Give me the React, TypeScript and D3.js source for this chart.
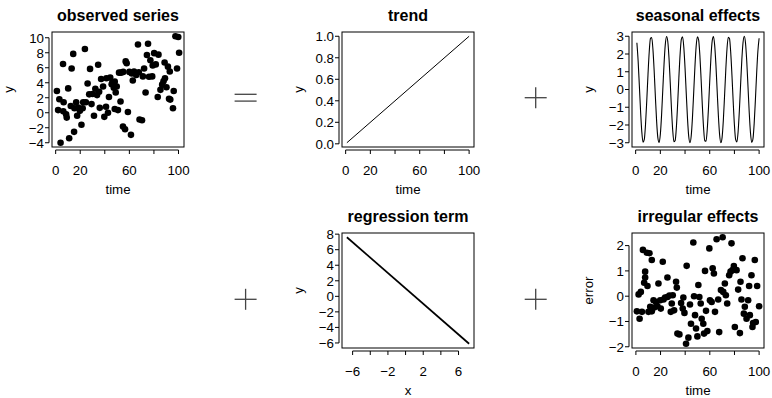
import React from "react";
import * as d3 from "d3";

// ---------- data ----------
const obsTime = [1, 2, 3, 4, 6, 6.2, 6.5, 8.5, 9, 10.2, 11, 12.3, 13, 14.3, 15, 15.3, 16.7, 17.5, 18.3, 19.7,
  21, 22, 22.4, 23.8, 24.6, 26, 27.3, 28, 29.2, 30, 31.2, 32.3, 33.7, 34.6, 35.4, 35.9, 37, 38.6, 39.6, 41,
  41.3, 42.6, 43.4, 44.4, 45.6, 46.2, 47.3, 48.1, 48.1, 48.9, 49.7, 50.7, 51.6, 52.8, 53.2, 54.8, 55, 56.5, 57, 57.8,
  58.8, 60, 61.3, 62, 62.8, 63.8, 65.6, 67, 67.7, 68.3, 70.3, 71, 72, 73.2, 74.3, 75.2, 76, 77.1, 78.6, 79,
  80.2, 81.5, 83.1, 83.7, 85.3, 86.7, 87.8, 88.7, 89, 90.2, 91.4, 92.3, 92.9, 93.3, 95.5, 96.1, 97.5, 98.8, 99.8, 100.5];
const obsValue = [2.9, 0.35, 1.8, -4.0, 6.5, 0.2, 1.4, -0.2, -0.65, 3.25, -3.4, 0.9, 5.9, 7.85, -2.55, 0.6, 1.4, -0.4, 0.7, 0.25,
  -1.6, 0.6, 1.4, 8.5, 1.4, 3.9, 2.45, 5.85, 1.15, 2.5, -0.4, 3.2, 2.35, 6.4, 2.8, 0.65, 4.5, 3.5, -0.55, 0.8,
  4.6, 0.0, 2.1, 4.7, 3.8, 4.1, 3.35, 4.15, 0.5, 2.7, 3.5, 0.35, 5.35, 1.5, 5.35, -1.85, 5.45, -2.2, 6.85, 6.6,
  0.1, 5.45, -2.95, 5.25, 4.3, 5.5, 5.05, 9.1, 5.4, -0.9, -1.0, 4.85, 5.9, 2.7, 7.7, 9.2, 4.8, 7.0, 4.85, 6.3,
  7.95, 6.45, 2.1, 7.75, 3.05, 3.75, 4.2, 6.7, 4.6, 3.4, 6.15, 1.85, 5.5, 1.75, 0.6, 2.9, 10.2, 5.9, 10.1, 8.0];

const trendTime = [1, 100];
const trendValue = [0.01, 1.0];

// seasonal effect at time 1..100 (index + 1)
const seasonalValue = [2.63, 1.62, 0.21, -1.25, -2.40, -2.97, -2.81, -1.96, -0.63, 0.85,
  2.13, 2.88, 2.93, 2.26, 1.04, -0.44, -1.81, -2.73, -2.99, -2.52,
  -1.43, 0.01, 1.44, 2.53, 2.99, 2.72, 1.79, 0.41, -1.06, -2.28,
  -2.94, -2.87, -2.11, -0.83, 0.66, 1.98, 2.82, 2.97, 2.39, 1.22,
  -0.24, -1.64, -2.65, -3.00, -2.62, -1.60, -0.19, 1.27, 2.43, 2.97,
  2.80, 1.94, 0.61, -0.88, -2.14, -2.89, -2.92, -2.24, -1.02, 0.46,
  1.83, 2.74, 2.99, 2.50, 1.40, -0.04, -1.47, -2.55, -3.00, -2.71,
  -1.76, -0.38, 1.09, 2.30, 2.94, 2.87, 2.09, 0.80, -0.68, -2.00,
  -2.83, -2.96, -2.37, -1.20, 0.27, 1.67, 2.66, 3.00, 2.61, 1.58,
  0.16, -1.30, -2.44, -2.98, -2.79, -1.92, -0.58, 0.90, 2.16, 2.89];

const regX = [-6.65, 7.2];
const regY = [7.6, -6.1];

const errTime = [0.8, 2.2, 3, 4, 4.9, 5.7, 6.7, 7.5, 7.5, 8.9, 9.4, 10.2, 11, 11.6, 12.9, 12.9, 14.3, 14.8, 16.4, 17.5,
  18.3, 20.2, 19.7, 21.8, 22.4, 23.7, 25.6, 25.6, 27.2, 28.3, 29.1, 29.9, 31, 32.6, 33.2, 33.7, 35.3, 36.7, 38, 38.5,
  39.4, 40.7, 41.2, 42.6, 43.9, 44.7, 46.6, 47.2, 48, 48.8, 49.9, 50.7, 51.5, 52.6, 53.4, 54.7, 55.3, 56.1, 56.9, 58,
  59.6, 60.1, 61.5, 62.3, 63.3, 64.2, 65.5, 66.8, 67.6, 69, 70.4, 70.9, 72.2, 73, 74.1, 75.7, 76.8, 77.6, 78.4, 79.5,
  80.3, 81.7, 83, 84.4, 84.9, 86.5, 85.7, 87.6, 88.4, 89.8, 91.1, 91.9, 92.5, 93.8, 94.6, 95.1, 96.5, 97.3, 98.4, 100];
const errValue = [-0.6, 0.07, -0.89, 0.17, -0.62, 1.83, 0.53, 0.74, 0.97, 1.72, 0.4, -0.62, 1.7, -0.42, 1.43, -0.6, -0.16, -0.45, -0.23, -0.4,
  0.5, -0.49, -0.16, 1.36, -0.13, -0.05, 0.74, -0.03, 0.03, -0.62, -0.29, 0.04, -0.56, 0.57, 0.34, -1.48, -1.51, -0.27, -0.49, -0.05,
  -0.66, -1.88, 1.2, -1.64, -0.33, -1.09, 2.12, 0.0, -0.75, -1.28, -1.59, 0.44, -0.03, -0.29, -0.89, -1.09, -1.48, 1.0, -0.58, -1.38,
  1.89, -0.16, -0.23, 1.1, 0.9, -0.62, 2.25, -0.13, -1.42, 0.24, 2.33, 0.17, 0.5, 0.04, -0.29, 0.83, 0.97, 2.09, 1.03, 1.19,
  -1.22, 1.03, 0.26, -1.46, 0.57, 1.5, -0.13, -0.69, -0.42, -0.89, -0.16, 0.4, -0.75, 0.83, -1.22, -1.06, 1.43, -1.02, 0.4, -0.4];

const timeTicks = [0, 20, 40, 60, 80, 100];
const timeLabels = [0, 20, 60, 100];
const obsYTicks = [-4, -2, 0, 2, 4, 6, 8, 10];
const trendYTicks = [0, 0.2, 0.4, 0.6, 0.8, 1.0];
const seasonalYTicks = [-3, -2, -1, 0, 1, 2, 3];
const regXTicks = [-6, -4, -2, 0, 2, 4, 6];
const regXLabels = [-6, -2, 2, 6];
const regYTicks = [-6, -4, -2, 0, 2, 4, 6, 8];
const errYTicks = [-2, -1, 0, 1, 2];

// ---------- layout ----------
const W = 132;
const H = 115;
const colX = [52, 342, 632];
const rowY = [32, 233];
const FONT = "'Liberation Sans', Arial, Helvetica, sans-serif";
const TICK_FS = 13.3;
const TITLE_FS = 16;

const pad = (vals: number[]) => {
  const [lo, hi] = d3.extent(vals) as [number, number];
  const r = hi - lo;
  return [lo - 0.04 * r, hi + 0.04 * r];
};

const minus = (s: string) => s.replace("-", "\u2212");

type PanelProps = {
  x0: number;
  y0: number;
  xData: number[];
  yData: number[];
  xTicks: number[];
  xLabels: number[];
  yTicks: number[];
  yFmt: (v: number) => string;
  title: string;
  xlab: string;
  ylab: string;
  render: (x: d3.ScaleLinear<number, number>, y: d3.ScaleLinear<number, number>) => React.ReactNode;
};

function Panel(p: PanelProps) {
  const x = d3.scaleLinear().domain(pad(p.xData)).range([p.x0, p.x0 + W]);
  const y = d3.scaleLinear().domain(pad(p.yData)).range([p.y0 + H, p.y0]);
  const axY = p.y0 + H + 3;
  const axX = p.x0 - 3;
  const tl = 4;
  return (
    <g fontFamily={FONT}>
      <text x={p.x0 + W / 2} y={p.y0 - 11.5} textAnchor="middle" fontWeight="bold" fontSize={TITLE_FS}>
        {p.title}
      </text>
      <rect x={p.x0} y={p.y0} width={W} height={H} fill="none" stroke="#000" strokeWidth={1} />
      <clipPath id={`clip-${p.x0}-${p.y0}`}>
        <rect x={p.x0} y={p.y0} width={W} height={H} />
      </clipPath>
      <g clipPath={`url(#clip-${p.x0}-${p.y0})`}>{p.render(x, y)}</g>
      {/* x axis */}
      <line x1={x(p.xTicks[0])} x2={x(p.xTicks[p.xTicks.length - 1])} y1={axY} y2={axY} stroke="#000" />
      {p.xTicks.map((t) => (
        <line key={`xt${t}`} x1={x(t)} x2={x(t)} y1={axY} y2={axY + tl} stroke="#000" />
      ))}
      {p.xLabels.map((t) => (
        <text key={`xl${t}`} x={x(t)} y={p.y0 + H + 28} textAnchor="middle" fontSize={TICK_FS}>
          {minus(String(t))}
        </text>
      ))}
      <text x={p.x0 + W / 2} y={p.y0 + H + 47} textAnchor="middle" fontSize={TICK_FS}>
        {p.xlab}
      </text>
      {/* y axis */}
      <line x1={axX} x2={axX} y1={y(p.yTicks[0])} y2={y(p.yTicks[p.yTicks.length - 1])} stroke="#000" />
      {p.yTicks.map((t) => (
        <line key={`yt${t}`} x1={axX} x2={axX - tl} y1={y(t)} y2={y(t)} stroke="#000" />
      ))}
      {p.yTicks.map((t) => (
        <text key={`yl${t}`} x={p.x0 - 8} y={y(t)} dy="0.36em" textAnchor="end" fontSize={TICK_FS}>
          {minus(p.yFmt(t))}
        </text>
      ))}
      <text
        transform={`translate(${p.x0 - 39},${p.y0 + H / 2}) rotate(-90)`}
        textAnchor="middle"
        fontSize={TICK_FS}
      >
        {p.ylab}
      </text>
    </g>
  );
}

function Equals({ cx, cy }: { cx: number; cy: number }) {
  return (
    <g stroke="#444" strokeWidth={1.3}>
      <line x1={cx - 11} x2={cx + 11} y1={cy - 3.4} y2={cy - 3.4} />
      <line x1={cx - 11} x2={cx + 11} y1={cy + 3.4} y2={cy + 3.4} />
    </g>
  );
}

function Plus({ cx, cy }: { cx: number; cy: number }) {
  return (
    <g stroke="#444" strokeWidth={1.3}>
      <line x1={cx - 11} x2={cx + 11} y1={cy} y2={cy} />
      <line x1={cx} x2={cx} y1={cy - 10.5} y2={cy + 10.5} />
    </g>
  );
}

const intFmt = (v: number) => d3.format("d")(v);
const oneDec = (v: number) => d3.format(".1f")(v);

export default function App() {
  const seasonalTime = seasonalValue.map((_, i) => i + 1);
  return (
    <svg
      width={772}
      height={398}
      style={{ position: "absolute", left: 0, top: 0, background: "#fff" }}
    >
      <rect width={772} height={398} fill="#fff" />
      <Panel
        x0={colX[0]} y0={rowY[0]} xData={obsTime} yData={obsValue}
        xTicks={timeTicks} xLabels={timeLabels} yTicks={obsYTicks} yFmt={intFmt}
        title="observed series" xlab="time" ylab="y"
        render={(x, y) =>
          obsTime.map((t, i) => <circle key={i} cx={x(t)} cy={y(obsValue[i])} r={3.3} fill="#000" />)
        }
      />
      <Panel
        x0={colX[1]} y0={rowY[0]} xData={trendTime} yData={trendValue}
        xTicks={timeTicks} xLabels={timeLabels} yTicks={trendYTicks} yFmt={oneDec}
        title="trend" xlab="time" ylab="y"
        render={(x, y) => (
          <path
            d={d3.line<number>().x((t) => x(t)).y((_, i) => y(trendValue[i]))(trendTime) || ""}
            fill="none" stroke="#000" strokeWidth={1}
          />
        )}
      />
      <Panel
        x0={colX[2]} y0={rowY[0]} xData={seasonalTime} yData={seasonalValue}
        xTicks={timeTicks} xLabels={timeLabels} yTicks={seasonalYTicks} yFmt={intFmt}
        title="seasonal effects" xlab="time" ylab="y"
        render={(x, y) => (
          <path
            d={d3.line<number>().x((t) => x(t)).y((_, i) => y(seasonalValue[i])).curve(d3.curveMonotoneX)(seasonalTime) || ""}
            fill="none" stroke="#000" strokeWidth={1.1}
          />
        )}
      />
      <Panel
        x0={colX[1]} y0={rowY[1]} xData={regX} yData={regY}
        xTicks={regXTicks} xLabels={regXLabels} yTicks={regYTicks} yFmt={intFmt}
        title="regression term" xlab="x" ylab="y"
        render={(x, y) => (
          <path
            d={d3.line<number>().x((v) => x(v)).y((_, i) => y(regY[i]))(regX) || ""}
            fill="none" stroke="#000" strokeWidth={1.7}
          />
        )}
      />
      <Panel
        x0={colX[2]} y0={rowY[1]} xData={errTime} yData={errValue}
        xTicks={timeTicks} xLabels={timeLabels} yTicks={errYTicks} yFmt={intFmt}
        title="irregular effects" xlab="time" ylab="error"
        render={(x, y) =>
          errTime.map((t, i) => <circle key={i} cx={x(t)} cy={y(errValue[i])} r={3.3} fill="#000" />)
        }
      />
      <Equals cx={245.6} cy={97.7} />
      <Plus cx={535.7} cy={97.7} />
      <Plus cx={245.6} cy={299.3} />
      <Plus cx={535.7} cy={299.3} />
    </svg>
  );
}
